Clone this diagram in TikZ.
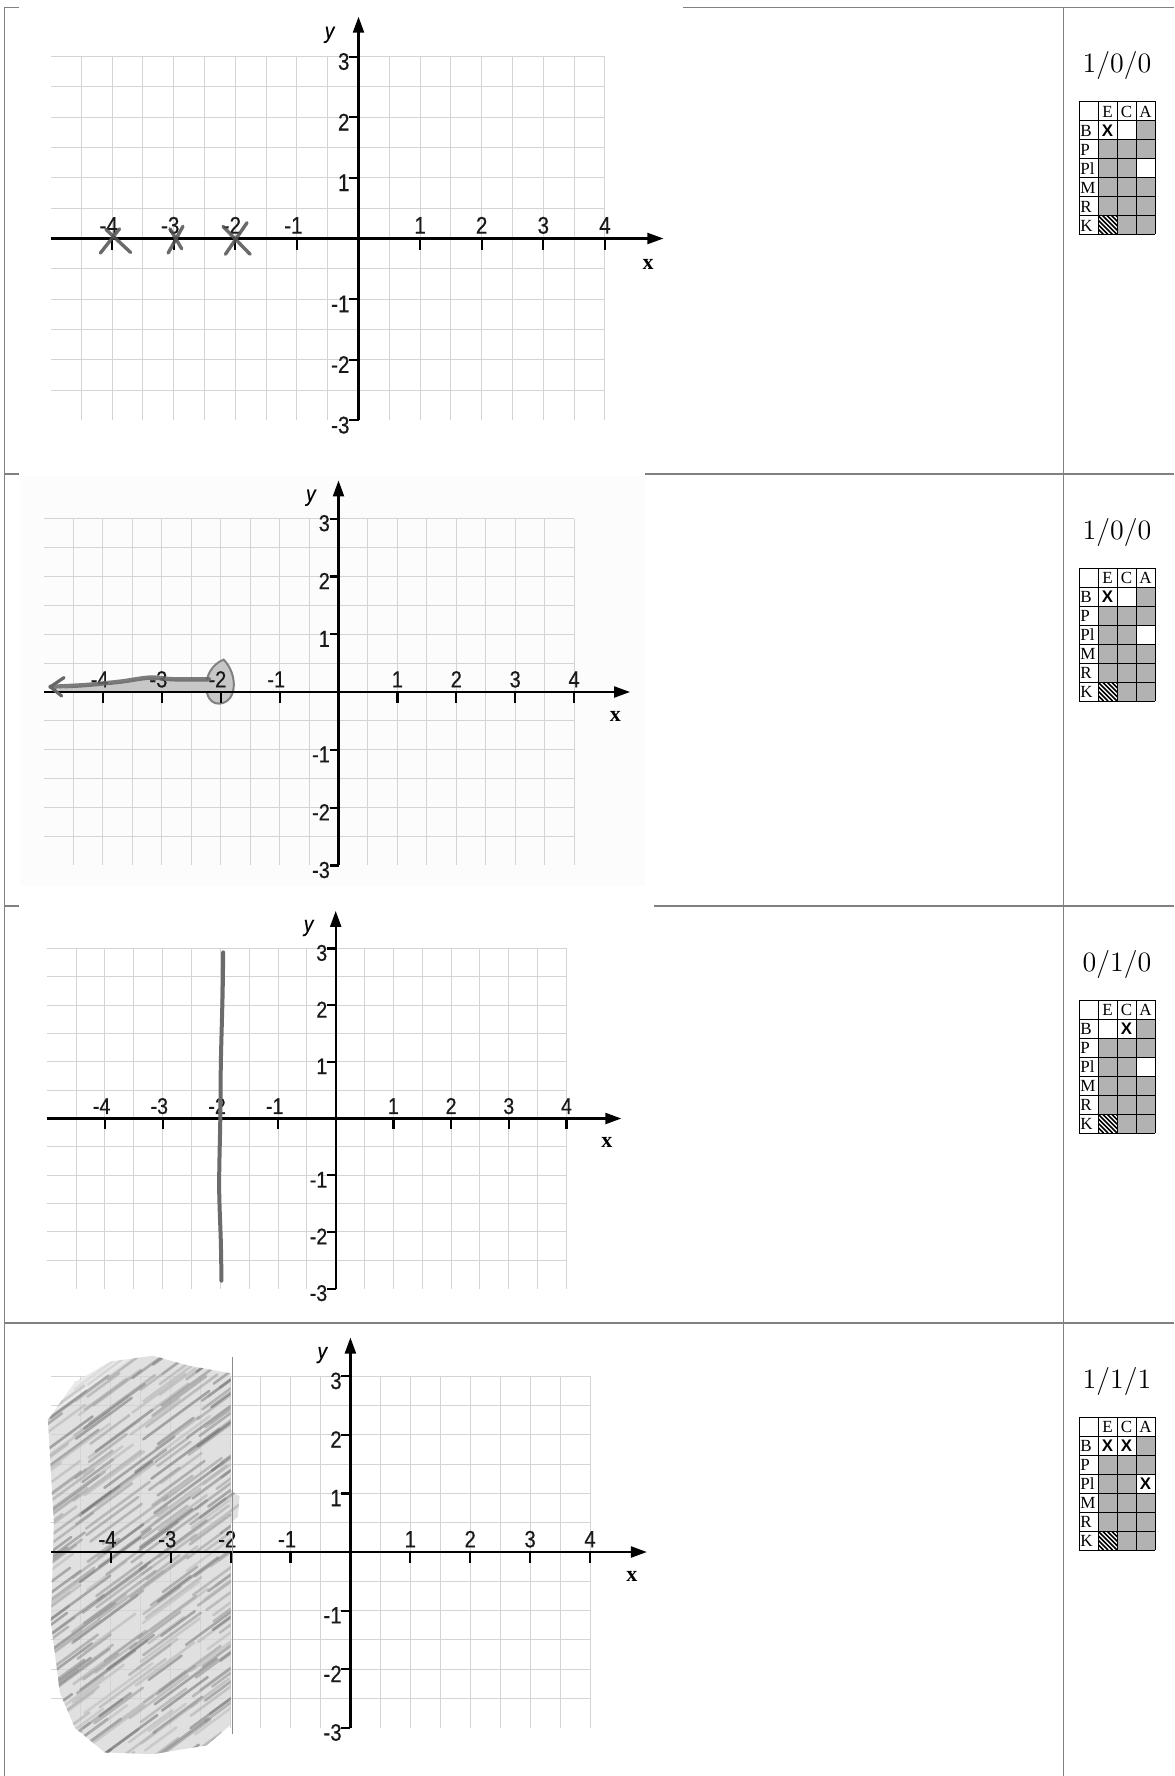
\documentclass[tikz,border=0pt]{standalone}
\usepackage{fontspec}
\usetikzlibrary{arrows.meta}
\newfontfamily\axfont{Liberation Sans}[FakeStretch=0.86,FakeBold=0.5]
\newfontfamily\tabfont{Liberation Serif}
\newfontfamily\markfont{Liberation Sans}
\definecolor{linegray}{RGB}{128,128,128}
\definecolor{gridgray}{RGB}{212,212,212}
\definecolor{cellgray}{RGB}{178,178,178}
\definecolor{pencil}{RGB}{80,80,80}
\definecolor{shadefill}{RGB}{212,212,212}
\definecolor{faintbg}{RGB}{252,252,252}
\def\tls{9}
\tikzset{
 frameline/.style={draw=linegray, line width=0.65pt},
 gridline/.style={draw=gridgray, line width=0.5pt},
 axisline/.style={draw=black, line width=1.1pt},
 axarrow/.style={axisline, -{Triangle[length=8pt,width=5.5pt]}},
 ticklab/.style={font=\axfont\fontsize{\tls}{\tls}\selectfont, inner sep=0pt, text=black!90},
 ylab/.style={font=\axfont\itshape\fontsize{11}{11}\selectfont, inner sep=0pt},
 xlab/.style={font=\tabfont\bfseries\fontsize{11}{11}\selectfont, inner sep=0pt},
 tabline/.style={draw=black, line width=0.5pt},
 tabtext/.style={font=\tabfont\fontsize{8.5}{8.5}\selectfont, inner sep=0pt},
 marktext/.style={font=\markfont\bfseries\fontsize{8.4}{8.4}\selectfont, inner sep=0pt},
 scoretext/.style={font=\fontsize{14}{14}\selectfont, inner sep=0pt},
 penstroke/.style={draw=pencil, line width=1.7pt, line cap=round, opacity=0.85},
 pone/.style={shift={(358.5,238.5)},x=30.8pt,y=30.3pt},
 ptwo/.style={shift={(338.5,692)},x=29.45pt,y=28.9pt},
 pthree/.style={shift={(335.7,1118.5)},x=28.85pt,y=28.35pt},
 pfour/.style={shift={(350.4,1552)},x=29.95pt,y=29.3pt},
}
\newcommand\cgrid{%
 \foreach \k in {-9,...,8} \draw[gridline] (\k/2,-3) -- (\k/2,3);
 \foreach \k in {-5,...,6} \draw[gridline] (-5,\k/2) -- (4,\k/2);
}
\newcommand\caxes[2]{%
 \def\tls{#2}%
 \coordinate (#1xs) at (-5,0); \coordinate (#1xe) at (4.95,0);
 \coordinate (#1ys) at (0,-3); \coordinate (#1ye) at (0,3.66);
 \draw[axarrow] (#1xs) -- (#1xe);
 \draw[axarrow] (#1ys) -- (#1ye);
 \foreach \k in {-4,...,-1,1,2,3,4} \draw[axisline] (\k,0) -- (\k,-0.19);
 \foreach \k in {-3,...,-1,1,2,3} \draw[axisline] (0,\k) -- (-0.15,\k);
 \foreach \k in {1,...,4} {
   \node[ticklab,anchor=base] (#1xn\k) at (-\k,0.08) {\llap{-}\k};
   \node[ticklab,anchor=base] (#1xp\k) at (\k,0.08) {\k};
 }
 \foreach \k in {1,2,3} {
   \node[ticklab,anchor=east] (#1yp\k) at (-0.14,\k-0.08) {\k};
   \node[ticklab,anchor=east] (#1yn\k) at (-0.14,-\k-0.08) {-\k};
 }
 \node[ylab] (#1ylab) at (-0.47,3.36) {y};
 \node[xlab] (#1xlab) at (4.7,-0.42) {x};
}
\newcommand\scoretab[6]{%
 \node[scoretext] (#1score) at (1117,#2+58) {#3};
 \begin{scope}[shift={(1079,#2+94)}]
  \fill[cellgray] (57,19) rectangle (76,38);
  \fill[cellgray] (19,38) rectangle (76,57);
  \fill[cellgray] (19,57) rectangle (57,76);
  \fill[cellgray] (19,76) rectangle (76,114);
  \fill[cellgray] (38,114) rectangle (76,133);
  \begin{scope}
   \clip (19,114) rectangle (38,133);
   \foreach \t in {-18,-13.5,...,18} \draw[line width=0.8pt] (19+\t,114) -- (38+\t,133);
  \end{scope}
  \foreach \c in {0,...,4} \draw[tabline] (19*\c,0) -- (19*\c,133);
  \foreach \r in {0,...,7} \draw[tabline] (0,19*\r) -- (76,19*\r);
  \node[tabtext] (#1hE) at (28.5,10) {E};
  \node[tabtext] (#1hC) at (47.5,10) {C};
  \node[tabtext] (#1hA) at (66.5,10) {A};
  \node[tabtext,anchor=west] (#1rB) at (1,29) {B};
  \node[tabtext,anchor=west] (#1rP) at (1,48) {P};
  \node[tabtext,anchor=west] (#1rPl) at (1,67) {Pl};
  \node[tabtext,anchor=west] (#1rM) at (1,86) {M};
  \node[tabtext,anchor=west] (#1rR) at (1,105) {R};
  \node[tabtext,anchor=west] (#1rK) at (1,124) {K};
  \node[marktext] (#1mBE) at (28.5,29) {#4};
  \node[marktext] (#1mBC) at (47.5,29) {#5};
  \node[marktext] (#1mPlA) at (66.5,67) {#6};
 \end{scope}
}
\begin{document}
\begin{tikzpicture}[x=0.5pt,y=-0.5pt]
\useasboundingbox (0,0) rectangle (1174,1776);
\fill[white] (0,0) rectangle (1174,1776);
% frame
\draw[frameline] (4.5,7.5) -- (4.5,1776);
\draw[frameline] (1063.5,7.5) -- (1063.5,1776);
\draw[frameline] (4.5,7.5) -- (19,7.5);
\draw[frameline] (683,7.5) -- (1174,7.5);
\draw[frameline] (4.5,474) -- (19,474);
\draw[frameline] (645,474) -- (1174,474);
\draw[frameline] (4.5,906) -- (19,906);
\draw[frameline] (654,906) -- (1174,906);
\draw[frameline] (4.5,1323) -- (1174,1323);
\fill[faintbg] (20,476) rectangle (645,886);
% panel 1
\begin{scope}[pone]
 \cgrid
 \caxes{a}{12}
 \draw[penstroke] (-4.19,-0.24) -- (-3.88,0.16);
 \draw[penstroke] (-4.1,0.15) -- (-3.7,-0.23);
 \draw[penstroke] (-3.09,-0.24) -- (-2.85,0.2);
 \draw[penstroke] (-3.06,0.16) -- (-2.87,-0.17);
 \draw[penstroke] (-2.16,-0.26) -- (-1.81,0.26);
 \draw[penstroke] (-2.2,0.2) -- (-1.76,-0.26);
\end{scope}
% panel 2
\begin{scope}[ptwo]
 \cgrid
 \draw[draw=black!50, line width=1pt, fill=black!22] (-1.95,0.56) .. controls (-2.35,0.4) and (-2.32,-0.22) .. (-2.02,-0.2) .. controls (-1.72,-0.18) and (-1.7,0.3) .. (-1.95,0.56) -- cycle;
 \fill[black!22] (-4.85,0.03) -- (-4.3,0.12) -- (-3.7,0.17) -- (-3.2,0.25) -- (-2.8,0.22) -- (-2.2,0.22) -- (-2.2,0.0) -- (-4.85,0.0) -- cycle;
 \caxes{b}{11.6}
 \draw[draw=black!60, line width=2.2pt, line cap=round, line join=round, opacity=0.85] plot[smooth] coordinates {(-2.2,0.22) (-2.8,0.22) (-3.2,0.25) (-3.7,0.18) (-4.3,0.12) (-4.89,0.09)};
 \draw[draw=black!60, line width=1.6pt, line cap=round, line join=round] (-4.66,0.25) -- (-4.89,0.09) -- (-4.7,-0.07);
\end{scope}
% panel 3
\begin{scope}[pthree]
 \cgrid
 \caxes{c}{11.4}
 \draw[draw=black!58, line width=2pt, line cap=round] plot[smooth] coordinates {(-1.95,2.93) (-1.96,2.2) (-1.99,1.0) (-2.0,0.0) (-2.02,-1.2) (-1.99,-2.2) (-1.98,-2.86)};
\end{scope}
% panel 4
\begin{scope}[pfour]
 \cgrid
 \begin{scope}
  \clip (-5.05,2.25) -- (-4.6,2.9) -- (-4.0,3.25) -- (-3.3,3.35) -- (-2.7,3.18) -- (-2.0,3.05) -- (-2.0,1.05) -- (-1.85,0.95) -- (-1.88,0.6) -- (-2.0,0.5) -- (-2.0,-2.95) -- (-2.4,-3.3) -- (-3.3,-3.45) -- (-4.1,-3.42) -- (-4.6,-3.0) -- (-4.85,-2.4) -- (-5.0,-1.2) -- (-4.95,0.5) -- cycle;
  \fill[shadefill, fill opacity=0.7] (-5.2,-3.6) rectangle (-1.8,3.5);
  \pgfmathsetseed{11}
  \foreach \j in {0,...,105} {
   \foreach \k in {0,1,2,3} {
    \pgfmathsetmacro\xa{-5.6+0.95*\k+0.6*rnd}
    \pgfmathsetmacro\ya{-6.0+0.095*\j+0.08*rnd}
    \pgfmathsetmacro\len{0.5+0.7*rnd}
    \pgfmathtruncatemacro\gv{28+34*rnd}
    \draw[line width=1.3pt, line cap=round, draw=black!\gv, opacity=0.5] (\xa,\ya) -- ++(\len,0.75*\len);
   }
  }
  \fill[white, fill opacity=0.35] (-5.2,2.2) -- (-3.4,3.5) -- (-5.2,3.5) -- cycle;
 \end{scope}
 \caxes{d}{11.8}
 \draw[draw=black!45, line width=0.9pt] (-1.97,3.32) -- (-1.97,-3.11);
\end{scope}
% score tables
\scoretab{s1}{7.5}{1/0/0}{X}{}{}
\scoretab{s2}{474}{1/0/0}{X}{}{}
\scoretab{s3}{906}{0/1/0}{}{X}{}
\scoretab{s4}{1323}{1/1/1}{X}{X}{X}
\end{tikzpicture}
\end{document}
